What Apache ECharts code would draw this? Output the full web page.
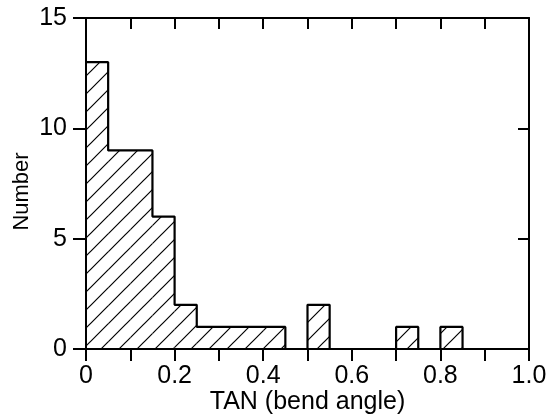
<!DOCTYPE html>
<html>
<head>
<meta charset="utf-8">
<script src="https://cdn.jsdelivr.net/npm/echarts@6/dist/echarts.min.js"></script>
<style>
  html, body { margin: 0; background: #fff; }
  #chart { width: 548px; height: 415px; }
</style>
</head>
<body>
<div id="chart"></div>
<script>
// histogram bins (left edge) and counts
var binWidth = 0.05;
var binStarts = [0, 0.05, 0.1, 0.15, 0.2, 0.25, 0.3, 0.35, 0.4, 0.45, 0.5, 0.55, 0.6, 0.65, 0.7, 0.75, 0.8];
var counts    = [13, 9, 9, 6, 2, 1, 1, 1, 1, 0, 2, 0, 0, 0, 1, 0, 1];
var xTickLabels = ['0', '0.2', '0.4', '0.6', '0.8', '1.0'];
var yTickLabels = ['0', '5', '10', '15'];

var FONT = 'Liberation Sans';

// hatch pattern "/"
function makeHatch(s) {
  var c = document.createElement('canvas');
  c.width = s; c.height = s;
  var ctx = c.getContext('2d');
  ctx.strokeStyle = '#000';
  ctx.lineWidth = 1.2;
  ctx.beginPath();
  ctx.moveTo(-1, s + 1); ctx.lineTo(s + 1, -1);
  ctx.moveTo(-1, 1); ctx.lineTo(1, -1);
  ctx.moveTo(s - 1, s + 1); ctx.lineTo(s + 1, s - 1);
  ctx.stroke();
  return c;
}
var hatch = { image: makeHatch(18), repeat: 'repeat' };

var barData = binStarts.map(function (x, i) { return [x, counts[i]]; });
var outline = binStarts.map(function (x, i) { return [x, counts[i]]; });
outline.push([binStarts[binStarts.length - 1] + binWidth, 0]);

function xLabel(v) {
  var k = Math.round(v * 10);
  if (k % 2) return '';
  return xTickLabels[k / 2];
}

var axisLine = { onZero: false, lineStyle: { color: '#000', width: 2 } };

var chart = echarts.init(document.getElementById('chart'));
chart.setOption({
  animation: false,
  grid: { left: 86, right: 19, top: 18, bottom: 66, outerBoundsMode: 'none' },
  xAxis: [{
    type: 'value', min: 0, max: 1, interval: 0.1,
    name: 'TAN (bend angle)', nameLocation: 'middle', nameGap: 41, nameMoveOverlap: false,
    nameTextStyle: { fontFamily: FONT, fontSize: 25, color: '#000' },
    axisLine: axisLine,
    axisTick: { inside: false, length: 12, lineStyle: { color: '#000', width: 2 } },
    axisLabel: { margin: 15, fontFamily: FONT, fontSize: 25, color: '#000', formatter: xLabel },
    splitLine: { show: false }
  }, {
    type: 'value', position: 'top', min: 0, max: 1, interval: 0.1,
    axisLine: axisLine,
    axisTick: { inside: true, length: 11, lineStyle: { color: '#000', width: 2 } },
    axisLabel: { show: false },
    splitLine: { show: false }
  }],
  yAxis: [{
    type: 'value', min: 0, max: 15, interval: 5,
    name: 'Number', nameLocation: 'middle', nameGap: 53, nameRotate: 90, nameMoveOverlap: false,
    nameTextStyle: { fontFamily: FONT, fontSize: 22, color: '#000', padding: [0, 16, 0, 0] },
    axisLine: axisLine,
    axisTick: { inside: false, length: 13, lineStyle: { color: '#000', width: 2 } },
    axisLabel: { margin: 19, fontFamily: FONT, fontSize: 25, color: '#000',
      formatter: function (v) { return yTickLabels[Math.round(v / 5)]; } },
    splitLine: { show: false }
  }, {
    type: 'value', position: 'right', min: 0, max: 15, interval: 5,
    axisLine: axisLine,
    axisTick: { inside: true, length: 11, lineStyle: { color: '#000', width: 2 } },
    axisLabel: { show: false },
    splitLine: { show: false }
  }],
  series: [{
    type: 'custom',
    data: barData,
    renderItem: function (params, api) {
      var x0 = api.value(0), c = api.value(1);
      var p0 = api.coord([x0, 0]);
      var p1 = api.coord([x0 + binWidth, c]);
      return {
        type: 'rect',
        shape: { x: p0[0], y: p1[1], width: p1[0] - p0[0], height: p0[1] - p1[1] },
        style: { fill: hatch }
      };
    },
    silent: true
  }, {
    type: 'line',
    step: 'end',
    data: outline,
    symbol: 'none',
    lineStyle: { color: '#000', width: 2.2 },
    silent: true
  }]
});
</script>
</body>
</html>
